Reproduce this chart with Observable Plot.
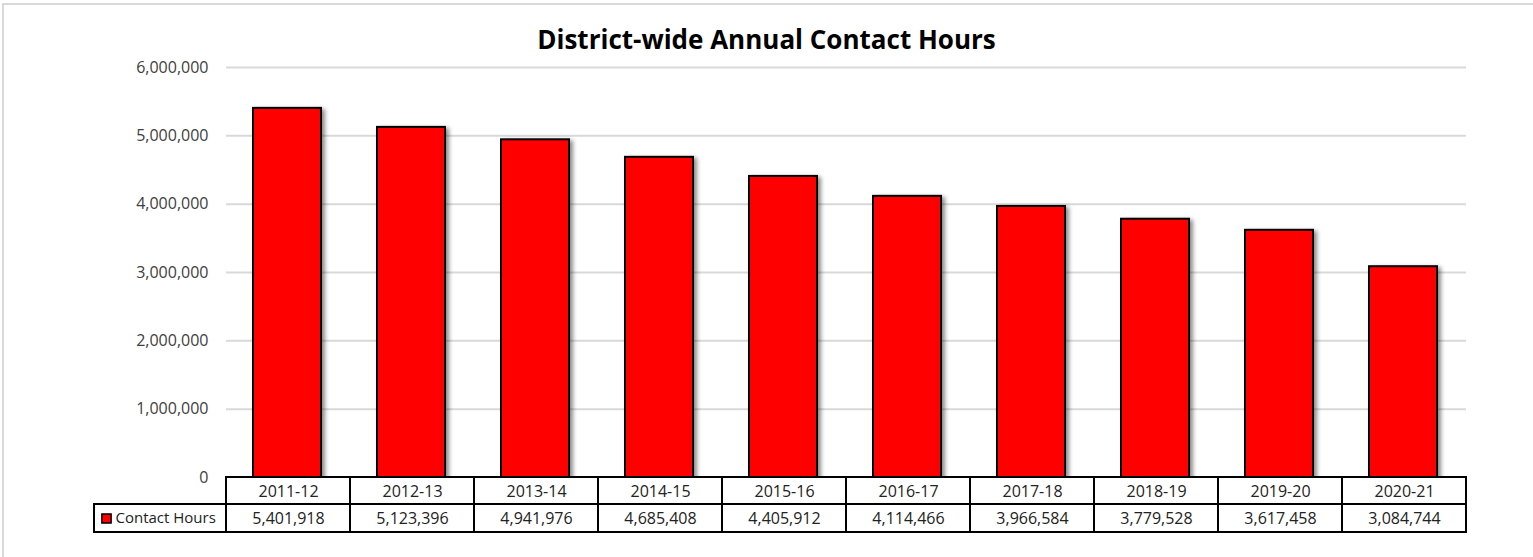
<!DOCTYPE html>
<html>
<head>
<meta charset="utf-8">
<script src="https://cdn.jsdelivr.net/npm/d3@7"></script>
<script src="https://cdn.jsdelivr.net/npm/@observablehq/plot@0.6"></script>
<style>
  html, body { margin: 0; padding: 0; background: #fff; }
  body { width: 1533px; height: 557px; overflow: hidden; position: relative; font-family: "Open Sans", sans-serif; }
  #frame { position: absolute; left: 2px; top: 3px; width: 1560px; height: 620px; border: 2px solid #d9d9d9; box-sizing: border-box; }
  #title { position: absolute; left: 0; width: 1533px; top: 21px; height: 36px; line-height: 36px; text-align: center;
           font-family: "Open Sans", sans-serif; font-weight: 700; font-size: 26px; color: #000; }
  #chart { position: absolute; left: 0; top: 55px; }
</style>
</head>
<body>
<div id="frame"></div>
<div id="title">District-wide Annual Contact Hours</div>
<div id="chart"></div>
<script>
const categories = ["2011-12","2012-13","2013-14","2014-15","2015-16","2016-17","2017-18","2018-19","2019-20","2020-21"];
const contactHours = [5401918, 5123396, 4941976, 4685408, 4405912, 4114466, 3966584, 3779528, 3617458, 3084744];
const seriesName = "Contact Hours";
const yTicks = [0, 1000000, 2000000, 3000000, 4000000, 5000000, 6000000];

const data = categories.map((c, i) => ({year: c, hours: contactHours[i]}));
const fmt = d3.format(",");
const legendDatum = [{year: categories[0], label: seriesName}];

const chart = Plot.plot({
  width: 1533,
  height: 490,
  marginTop: 12,
  marginBottom: 68,
  marginLeft: 226,
  marginRight: 67,
  style: {fontFamily: "Open Sans, sans-serif", fontSize: "16px", background: "transparent", overflow: "visible"},
  x: {type: "band", domain: categories, paddingInner: 0, paddingOuter: 0, axis: null},
  y: {domain: [0, 6000000], axis: null},
  marks: [
    Plot.ruleY(yTicks.filter(d => d > 0), {stroke: "#d9d9d9", strokeWidth: 2}),
    Plot.axisY({ticks: yTicks, tickFormat: fmt, tickSize: 0, tickPadding: 18, fontSize: 16, color: "#404040", label: null}),
    Plot.barY(data, {x: "year", y: "hours", fill: "#ff0000", stroke: "#000", strokeWidth: 2,
                     insetLeft: 27, insetRight: 29}),
    // data table: category row
    Plot.barY(data, {x: "year", y1: 0, y2: 0, insetTop: 0, insetBottom: -27, fill: "#fff", stroke: "#000", strokeWidth: 2}),
    // data table: value row
    Plot.barY(data, {x: "year", y1: 0, y2: 0, insetTop: 27, insetBottom: -55, fill: "#fff", stroke: "#000", strokeWidth: 2}),
    // legend cell
    Plot.barY(legendDatum, {x: "year", y1: 0, y2: 0, insetTop: 27, insetBottom: -55, insetLeft: -132, insetRight: 124,
                            fill: "#fff", stroke: "#000", strokeWidth: 2}),
    Plot.dot(legendDatum, {x: "year", y: 0, dy: 41, dx: -182, symbol: "square", r: 5.2, fill: "#ff0000", stroke: "#000", strokeWidth: 1.5}),
    Plot.text(legendDatum, {x: "year", y: 0, dy: 41, dx: -173, text: "label", textAnchor: "start", fontSize: 15, fill: "#222"}),
    Plot.text(data, {x: "year", y: 0, dy: 14, text: "year", fontSize: 16, fill: "#222"}),
    Plot.text(data, {x: "year", y: 0, dy: 41, text: d => fmt(d.hours), fontSize: 16, fill: "#222"})
  ]
});
const barGroup = chart.querySelector('g[aria-label="bar"]');
if (barGroup) barGroup.style.filter = "drop-shadow(3px 2px 2px rgba(0,0,0,0.45))";
document.getElementById("chart").appendChild(chart);
</script>
</body>
</html>
